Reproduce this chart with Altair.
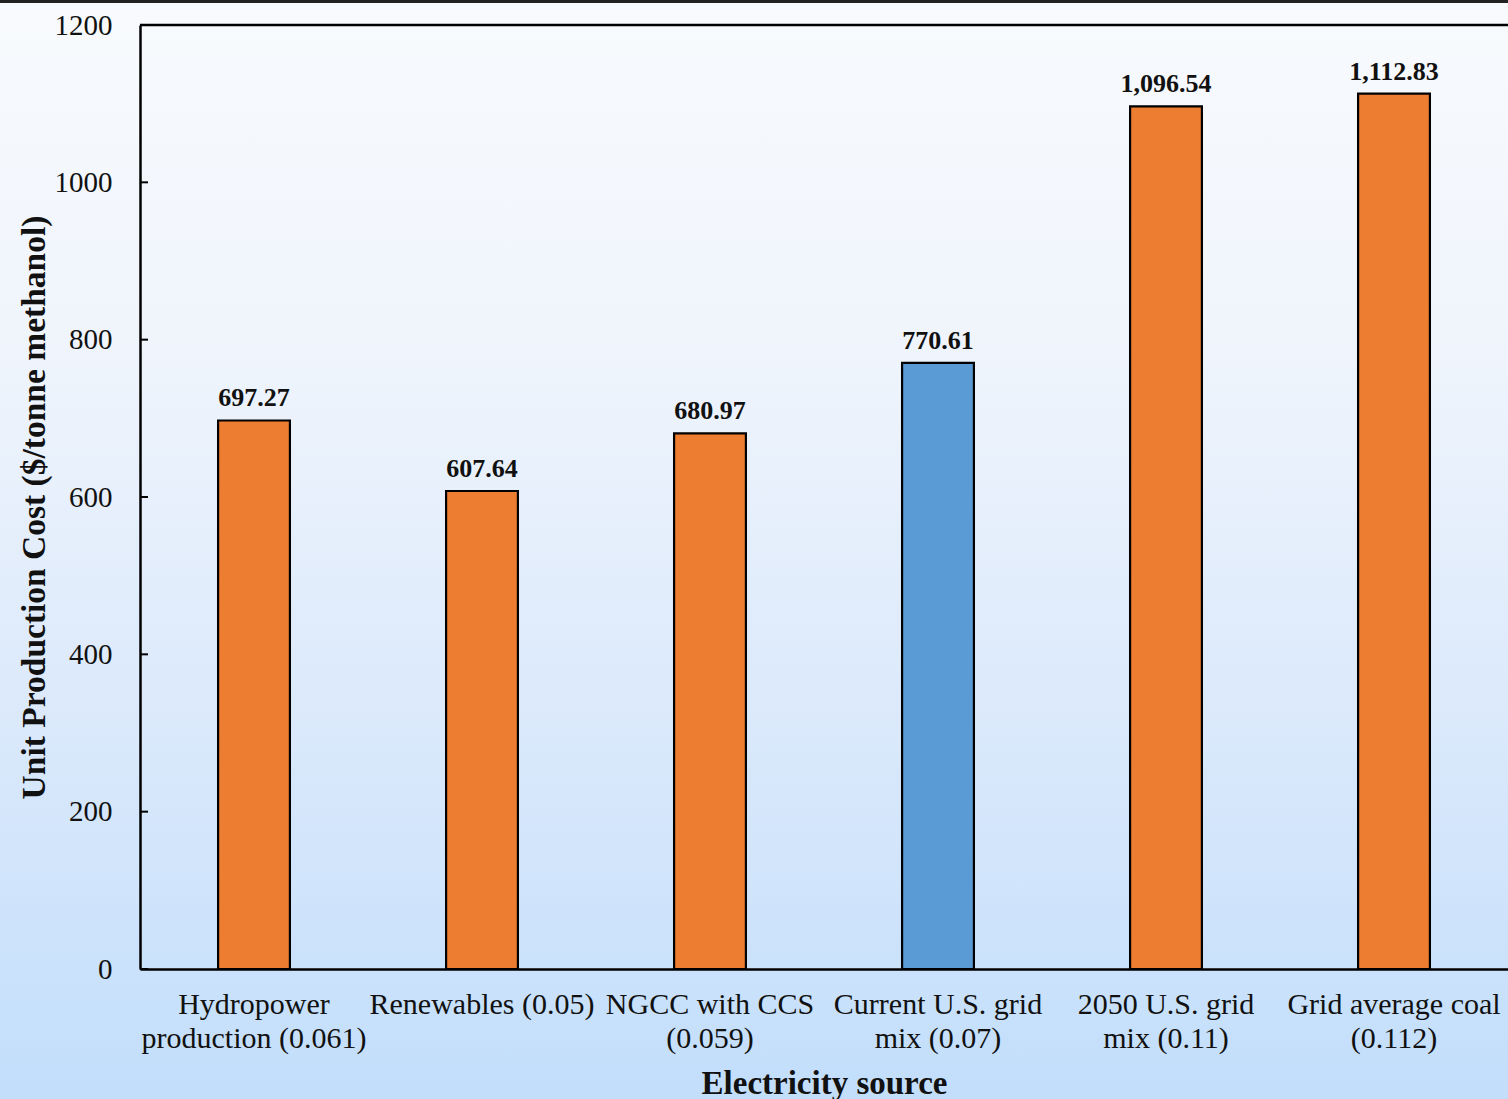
import altair as alt
import pandas as pd

# Electricity sources ("|" marks a line break in the axis label)
sources = [
    "Hydropower|production (0.061)",
    "Renewables (0.05)",
    "NGCC with CCS|(0.059)",
    "Current U.S. grid|mix  (0.07)",
    "2050 U.S. grid|mix (0.11)",
    "Grid average coal|(0.112)",
]
costs = [697.27, 607.64, 680.97, 770.61, 1096.54, 1112.83]
bar_colors = ["#ED7D31", "#ED7D31", "#ED7D31", "#5B9BD5", "#ED7D31", "#ED7D31"]
y_ticks = [0, 200, 400, 600, 800, 1000, 1200]

W, H = 1368, 944
PAD_L, PAD_T, PAD_B = 140, 25, 130
FONT = "Liberation Serif"

df = pd.DataFrame({"source": sources, "cost": costs, "color": bar_colors})
ticks_df = pd.DataFrame({"tick": y_ticks})
one = pd.DataFrame({"k": [0]})

x_enc = alt.X(
    "source:N",
    sort=sources,
    scale=alt.Scale(paddingInner=0.685, paddingOuter=0.3425),
    axis=alt.Axis(
        title="Electricity source",
        labelExpr="split(datum.label, '|')",
        labelAngle=0,
        labelOverlap=False,
        labelLimit=0,
        labelBaseline="top",
        labelPadding=20,
        labelLineHeight=34,
        labelFontSize=30,
        labelFont=FONT,
        labelColor="#111111",
        ticks=False,
        domainColor="black",
        domainWidth=2.5,
        titleFont=FONT,
        titleFontSize=33,
        titleFontWeight="bold",
        titleColor="#111111",
        titlePadding=14,
        zindex=2,
    ),
)
y_scale = alt.Scale(domain=[0, 1200], nice=False)
y_enc = alt.Y(
    "cost:Q",
    scale=y_scale,
    axis=alt.Axis(
        title="Unit Production Cost ($/tonne methanol)",
        values=y_ticks,
        format="d",
        ticks=False,
        grid=False,
        labelPadding=28,
        labelFontSize=29,
        labelFont=FONT,
        labelColor="#111111",
        domainColor="black",
        domainWidth=2.5,
        titleFont=FONT,
        titleFontSize=33.5,
        titleFontWeight="bold",
        titleColor="#111111",
        titleAngle=-90,
        titleAlign="center",
        titleBaseline="alphabetic",
        titleX=-96,
        titleY=H / 2 + 10,
        zindex=2,
    ),
)

# Page background: white fading into light blue
background = alt.Chart(one).mark_rect(
    fill=alt.Gradient(
        gradient="linear",
        x1=0, x2=0, y1=0, y2=1,
        stops=[
            alt.GradientStop(offset=0, color="#f8fafd"),
            alt.GradientStop(offset=0.3, color="#f0f5fc"),
            alt.GradientStop(offset=0.65, color="#dbe9fb"),
            alt.GradientStop(offset=1, color="#c2defb"),
        ],
    ),
    stroke=None,
).encode(
    x=alt.value(-PAD_L), x2=alt.value(W),
    y=alt.value(-PAD_T), y2=alt.value(H + PAD_B),
)

# Thin frame line along the very top of the page
page_top = alt.Chart(one).mark_rule(color="#222222", strokeWidth=3).encode(
    x=alt.value(-PAD_L), x2=alt.value(W), y=alt.value(-PAD_T + 1.5)
)

# Top edge of the plot frame
frame_top = alt.Chart(one).mark_rule(color="black", strokeWidth=2.5).encode(
    x=alt.value(0), x2=alt.value(W), y=alt.value(0)
)

# Inward-pointing tick marks on the value axis
inner_ticks = alt.Chart(ticks_df).mark_rule(color="black", strokeWidth=2).encode(
    x=alt.value(0), x2=alt.value(8),
    y=alt.Y("tick:Q", scale=y_scale),
)

bars = alt.Chart(df).mark_bar(stroke="black", strokeWidth=2.2).encode(
    x=x_enc,
    y=y_enc,
    fill=alt.Fill("color:N", scale=None),
)

labels = alt.Chart(df).mark_text(
    dy=-14,
    baseline="alphabetic",
    align="center",
    font=FONT,
    fontSize=26,
    fontWeight="bold",
    color="#111111",
).encode(
    x=alt.X("source:N", sort=sources),
    y=alt.Y("cost:Q", scale=y_scale),
    text=alt.Text("cost:Q", format=",.2f"),
)

chart = (
    alt.layer(background, page_top, bars, labels, inner_ticks, frame_top)
    .properties(
        width=W,
        height=H,
        padding={"left": PAD_L, "top": PAD_T, "right": 0, "bottom": PAD_B},
        autosize=alt.AutoSizeParams(type="none"),
    )
    .configure(background="#c2defb")
    .configure_view(stroke=None)
)

chart.save("out.html", embed_options={"renderer": "svg", "actions": False})
